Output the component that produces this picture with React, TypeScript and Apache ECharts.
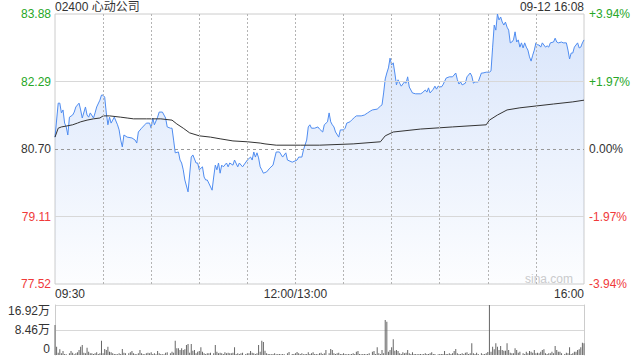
import React, { useEffect, useRef } from 'react';
import * as echarts from 'echarts';

// ---- data ----
const stockTitle = '02400 心动公司';
const stampText = '09-12 16:08';
const watermark = 'sina.com';

const priceTicks = [77.52, 79.11, 80.7, 82.29, 83.88];
const priceTickLabels = ['77.52', '79.11', '80.70', '82.29', '83.88'];
const pctTickLabels = ['-3.94%', '-1.97%', '0.00%', '+1.97%', '+3.94%'];
const tickColors = ['#f03a3a', '#f03a3a', '#333333', '#27a727', '#27a727'];

const timeLabels: Record<number, string> = { 0: '09:30', 150: '12:00/13:00', 330: '16:00' };

// [minute since 09:30 (lunch removed), price]
const priceTrack: [number, number][] = [
  [0, 80.98], [2, 81.78], [3, 81.78], [4, 81.55], [5, 81.62], [6, 81.31], [7, 81.22], [8, 81.03], [9, 81.45], [11, 81.5],
  [12, 81.57], [13, 81.69], [15, 81.78], [16, 81.62], [17, 81.43], [19, 81.69], [20, 81.5], [21, 81.45], [22, 81.55], [24, 81.43],
  [25, 81.55], [26, 81.69], [28, 81.85], [29, 81.97], [30, 81.97], [31, 81.92], [32, 81.55], [33, 81.27], [34, 81.45], [35, 81.31],
  [36, 81.38], [37, 81.45], [39, 81.27], [40, 81.15], [41, 80.91], [42, 80.75], [43, 81.03], [45, 80.98], [48, 80.96], [50, 80.91],
  [51, 80.84], [52, 81.1], [54, 81.19], [56, 81.27], [57, 81.31], [59, 81.31], [60, 81.19], [61, 81.43], [62, 81.27], [64, 81.45],
  [65, 81.57], [67, 81.57], [68, 81.5], [69, 81.43], [70, 81.22], [72, 81.19], [73, 81.19], [74, 80.91], [75, 80.61], [77, 80.63],
  [78, 80.44], [79, 80.37], [80, 80.21], [81, 79.97], [83, 79.69], [85, 80.51], [86, 80.56], [88, 80.37], [89, 80.37], [90, 80.21],
  [92, 80.28], [93, 80.04], [94, 79.97], [95, 79.97], [98, 79.73], [99, 80.04], [100, 80.32], [101, 80.21], [102, 80.37], [103, 80.13],
  [104, 80.32], [105, 80.28], [107, 80.37], [108, 80.28], [109, 80.37], [111, 80.32], [112, 80.44], [114, 80.28], [115, 80.37], [117, 80.28],
  [120, 80.44], [122, 80.51], [123, 80.44], [124, 80.63], [125, 80.51], [126, 80.61], [127, 80.49], [128, 80.28], [129, 80.21], [130, 80.13],
  [132, 80.16], [134, 80.25], [136, 80.32], [138, 80.63], [140, 80.63], [142, 80.51], [144, 80.61], [145, 80.44], [148, 80.39], [151, 80.44],
  [152, 80.51], [154, 80.51], [155, 80.68], [157, 80.91], [158, 81.22], [159, 81.27], [160, 81.19], [162, 81.19], [164, 81.22], [165, 81.17],
  [167, 81.1], [168, 81.27], [170, 81.34], [171, 81.55], [172, 81.34], [173, 81.27], [174, 81.22], [175, 81.1], [177, 80.98], [178, 81.15],
  [180, 81.15], [181, 81.19], [182, 81.31], [184, 81.34], [185, 81.38], [187, 81.45], [188, 81.48], [191, 81.48], [193, 81.5], [195, 81.55],
  [197, 81.6], [198, 81.62], [201, 81.64], [203, 81.71], [204, 81.74], [205, 82.02], [206, 82.35], [207, 82.49], [208, 82.61], [209, 82.84],
  [210, 82.68], [211, 82.73], [212, 82.49], [213, 82.21], [214, 82.33], [215, 82.25], [216, 82.18], [218, 82.28], [219, 82.25], [220, 82.4],
  [221, 82.16], [222, 82.09], [223, 82.02], [225, 82.0], [228, 82.0], [229, 82.02], [231, 82.09], [232, 82.04], [233, 82.14], [234, 82.02],
  [236, 82.11], [237, 82.18], [238, 82.11], [239, 82.18], [241, 82.16], [242, 82.21], [244, 82.37], [246, 82.4], [248, 82.4], [250, 82.49],
  [251, 82.33], [252, 82.23], [253, 82.28], [254, 82.21], [256, 82.25], [257, 82.4], [259, 82.49], [260, 82.42], [261, 82.25], [262, 82.28],
  [264, 82.28], [266, 82.49], [267, 82.49], [269, 82.51], [271, 82.51], [272, 82.54], [273, 83.1], [274, 83.62], [275, 83.5], [276, 83.88],
  [277, 83.74], [278, 83.81], [279, 83.69], [280, 83.62], [281, 83.69], [282, 83.57], [283, 83.5], [284, 83.2], [285, 83.22], [286, 83.27],
  [287, 83.46], [288, 83.22], [289, 83.27], [290, 83.1], [291, 83.2], [292, 83.08], [293, 83.2], [294, 83.1], [295, 83.03], [296, 82.87],
  [297, 82.77], [298, 82.91], [299, 83.03], [300, 83.2], [301, 83.15], [302, 83.15], [303, 83.1], [304, 83.2], [306, 83.1], [307, 83.13],
  [308, 83.1], [309, 83.2], [311, 83.22], [312, 83.31], [313, 83.22], [314, 83.2], [316, 83.22], [317, 83.2], [319, 83.2], [320, 83.03],
  [321, 82.82], [322, 82.96], [323, 82.96], [324, 83.1], [326, 83.2], [327, 83.08], [328, 83.1], [329, 83.2], [330, 83.27],
];

// [minute, average price]
const avgTrack: [number, number][] = [
  [0, 80.98], [2, 81.19], [4, 81.22], [7, 81.24], [11, 81.27], [14, 81.31], [16, 81.34], [20, 81.38], [24, 81.41], [28, 81.43],
  [30, 81.48], [34, 81.48], [41, 81.45], [45, 81.43], [49, 81.41], [57, 81.41], [66, 81.41], [73, 81.38], [76, 81.29], [80, 81.19],
  [84, 81.08], [90, 81.01], [97, 80.98], [103, 80.94], [111, 80.89], [120, 80.87], [128, 80.84], [131, 80.82], [138, 80.79], [153, 80.79],
  [165, 80.79], [186, 80.82], [203, 80.87], [206, 81.01], [211, 81.1], [228, 81.17], [248, 81.22], [269, 81.27], [271, 81.38], [276, 81.5],
  [282, 81.62], [290, 81.67], [311, 81.76], [323, 81.81], [330, 81.85],
];

// volume per minute, in 万 shares (null = no bar visible)
const volumes: (number | null)[] = [
  10.15, 2.82, 0.79, 1.92, 0.56, 1.35, 0.34, 0.23, null, 0.56,
  1.35, 0.79, 0.23, 0.56, 0.9, 1.69, 2.82, 3.38, 0.79, 0.56,
  2.48, 1.13, 0.56, 0.56, 0.34, 0.56, 0.9, 0.34, 0.56, 4.85,
  0.56, 2.03, 1.69, 2.82, 1.13, 0.9, 0.56, 0.34, 0.34, 0.23,
  0.56, 0.34, 2.03, 0.79, 0.56, null, 0.56, 0.9, 1.35, 0.56,
  0.34, 0.23, 0.56, 1.69, 0.56, 0.34, 0.23, 0.56, 0.79, 0.56,
  0.9, 0.34, 0.56, 0.23, 1.35, 0.56, 0.34, 0.23, 0.23, 0.79,
  0.9, null, 0.56, 1.13, 0.79, 4.85, 2.26, 2.26, 1.69, 2.26,
  1.69, 1.92, 3.38, 3.72, 0.79, 3.72, 1.47, 1.69, 0.56, 1.13,
  1.35, 2.59, 1.13, 0.56, 0.34, 0.56, 0.56, 0.79, null, 0.56,
  3.38, 1.13, 0.56, 0.79, 0.56, 0.34, 0.9, 0.56, 0.79, 0.56,
  0.56, 0.79, 2.59, 0.34, 0.56, 0.34, 0.56, 0.79, null, 0.34,
  0.56, 0.56, 1.35, 0.79, 0.56, 0.34, 0.56, 3.38, 1.13, 4.85,
  4.4, 1.47, 0.56, 0.34, 0.34, 0.23, 0.34, 0.56, 0.23, 0.34,
  0.34, 0.23, 0.34, 0.23, null, 0.56, 1.02, null, 0.34, 0.34,
  0.56, 1.02, 0.56, 0.34, 0.56, 0.23, 0.34, 0.34, 0.9, 0.34,
  0.56, 0.9, 0.34, 0.34, 0.23, 0.56, 0.79, 0.34, 0.56, 1.69,
  null, 0.56, 2.03, 1.69, 0.56, 0.34, 0.56, 0.79, 0.34, 0.34,
  0.56, 0.34, 0.23, 0.34, 0.23, 0.34, 0.56, 0.34, 1.13, 1.35,
  0.34, 0.23, 0.34, 0.34, 0.23, 0.34, 0.56, null, 1.13, 1.35,
  0.34, 2.59, 0.56, 0.34, 1.69, 0.56, 11.84, 11.28, 1.13, 1.69,
  2.59, 5.3, 1.47, 1.69, 1.35, 0.56, 0.34, 0.9, 0.56, 0.79,
  1.69, 0.56, 0.34, 0.9, 0.34, 0.34, 0.23, 0.34, 0.34, 0.23,
  0.34, 0.56, 0.34, 0.34, 0.56, 0.9, 0.34, 0.34, null, 0.23,
  0.34, 0.34, 0.34, 1.35, 0.34, 0.34, 0.56, 0.34, 0.56, 1.35,
  2.03, 0.56, 0.34, 0.34, 0.56, 0.34, 0.79, 0.9, 0.34, 0.56,
  3.95, 0.56, 0.34, 0.79, 0.34, null, 0.56, 0.23, 0.34, 0.56,
  1.02, 16.92, 1.13, 2.82, 1.92, 3.95, 2.82, 1.69, 3.05, 1.69,
  1.47, 1.47, 3.95, 1.69, 0.79, 0.56, 0.56, 2.26, 1.69, 0.79,
  1.13, null, 0.56, 0.34, 1.13, 0.56, 1.35, 1.13, 0.79, 1.69,
  0.56, 0.79, 0.56, 1.13, 1.69, 1.92, 0.56, 0.34, 0.56, 0.56,
  1.13, 0.56, 3.05, 1.69, 1.13, 1.13, 0.56, null, 0.34, 0.79,
  0.56, 2.59, 0.34, 0.56, 1.13, 1.13, 1.69, 1.92, 2.59, 4.17, 3.95,
];
const volumeMax = 16.92;
const volumeStep = 8.46;

const FONT = '"Liberation Sans", Arial, "Noto Sans CJK SC", sans-serif';

export default function App() {
  const ref = useRef<HTMLDivElement>(null);

  useEffect(() => {
    if (!ref.current) return;
    const chart = echarts.init(ref.current, undefined, { renderer: 'svg' });

    const gridLine = { color: '#b4b4b4', width: 1, type: [2, 2] as any };
    const hGridLine = { color: '#d8d8d8', width: 1, type: 'solid' as any };
    const hidden = { color: 'rgba(0,0,0,0)', width: 0 };

    const leftMarks = priceTicks.map((v, k) => ({
      yAxis: v,
      label: { formatter: priceTickLabels[k], color: tickColors[k] },
      lineStyle:
        k === 0 || k === priceTicks.length - 1
          ? { ...hidden }
          : k === 2
          ? { color: '#999999', width: 1, type: [3, 3] as any }
          : { ...hGridLine },
    }));
    const rightMarks = priceTicks.map((v, k) => ({
      yAxis: v,
      label: { formatter: pctTickLabels[k], color: tickColors[k] },
      lineStyle: { ...hidden },
    }));

    const volData = volumes
      .map((v, i) => (v == null ? null : [i, v]))
      .filter((d) => d !== null) as [number, number][];

    const option: any = {
      animation: false,
      backgroundColor: '#ffffff',
      textStyle: { fontFamily: FONT },
      title: [
        { text: stockTitle, left: 55, top: 1, padding: 0, textStyle: { fontSize: 12, fontWeight: 'normal', color: '#333', fontFamily: FONT } },
        { text: stampText, right: 56, top: 1, padding: 0, textStyle: { fontSize: 12, fontWeight: 'normal', color: '#333', fontFamily: FONT } },
      ],
      grid: [
        { left: 55, right: 56, top: 14, height: 270, show: true, borderColor: '#cccccc', borderWidth: 1 },
        { left: 55, right: 56, top: 305, height: 50, show: false },
      ],
      xAxis: [
        {
          type: 'value', gridIndex: 0, min: 0, max: 330, interval: 30, z: 10,
          axisLine: { show: false }, axisTick: { show: false },
          splitLine: { show: true, showMinLine: false, showMaxLine: false, lineStyle: gridLine },
          axisLabel: {
            show: true, margin: 4, fontSize: 12, color: '#333', fontFamily: FONT,
            alignMinLabel: 'left', alignMaxLabel: 'right',
            formatter: (v: number) => timeLabels[v] ?? '',
          },
        },
        {
          type: 'value', gridIndex: 1, min: 0, max: 330, interval: 30,
          axisLine: { show: false }, axisTick: { show: false }, axisLabel: { show: false },
          splitLine: { show: false },
        },
      ],
      yAxis: [
        {
          type: 'value', gridIndex: 0, min: priceTicks[0], max: priceTicks[priceTicks.length - 1],
          axisLine: { show: false }, axisTick: { show: false }, axisLabel: { show: false }, splitLine: { show: false },
        },
        {
          type: 'value', gridIndex: 1, min: 0, max: volumeMax, interval: volumeStep,
          axisLine: { show: true, lineStyle: { color: '#cccccc' } }, axisTick: { show: false },
          splitLine: { show: true, showMinLine: false, lineStyle: { ...hGridLine } },
          axisLabel: {
            margin: 5, fontSize: 12, color: '#333', fontFamily: FONT,
            verticalAlignMaxLabel: 'top', verticalAlignMinLabel: 'bottom',
            formatter: (v: number) => (v === 0 ? '0' : v.toFixed(2) + '万'),
          },
        },
        {
          type: 'value', gridIndex: 1, position: 'right', min: 0, max: volumeMax,
          axisLine: { show: true, lineStyle: { color: '#cccccc' } }, axisTick: { show: false },
          axisLabel: { show: false }, splitLine: { show: false },
        },
      ],
      series: [
        {
          name: 'price', type: 'line', xAxisIndex: 0, yAxisIndex: 0, data: priceTrack,
          symbol: 'none', lineStyle: { color: '#4f8cf0', width: 1 },
          areaStyle: {
            origin: 'start',
            color: new echarts.graphic.LinearGradient(0, 0, 0, 1, [
              { offset: 0, color: 'rgba(70,130,235,0.30)' },
              { offset: 1, color: 'rgba(70,130,235,0.02)' },
            ]),
          },
          markLine: {
            silent: true, symbol: 'none', animation: false,
            label: { position: 'start', distance: 4, fontSize: 12, fontFamily: FONT },
            data: leftMarks,
          },
          z: 2,
        },
        {
          name: 'avg', type: 'line', xAxisIndex: 0, yAxisIndex: 0, data: avgTrack,
          symbol: 'none', lineStyle: { color: '#333333', width: 1 },
          markLine: {
            silent: true, symbol: 'none', animation: false,
            label: { position: 'end', distance: 5, fontSize: 12, fontFamily: FONT },
            data: rightMarks,
          },
          z: 3,
        },
        {
          name: 'volume', type: 'bar', xAxisIndex: 1, yAxisIndex: 1, data: volData,
          barWidth: 1, itemStyle: { color: '#666666' },
        },
      ],
      graphic: [
        {
          type: 'text', right: 67, top: 273,
          style: { text: watermark, fill: '#cccccc', font: '12px "Liberation Sans", Arial, sans-serif' },
        },
      ],
    };

    chart.setOption(option);
    return () => chart.dispose();
  }, []);

  return <div ref={ref} style={{ position: 'fixed', left: 0, top: 0, width: 640, height: 360 }} />;
}
